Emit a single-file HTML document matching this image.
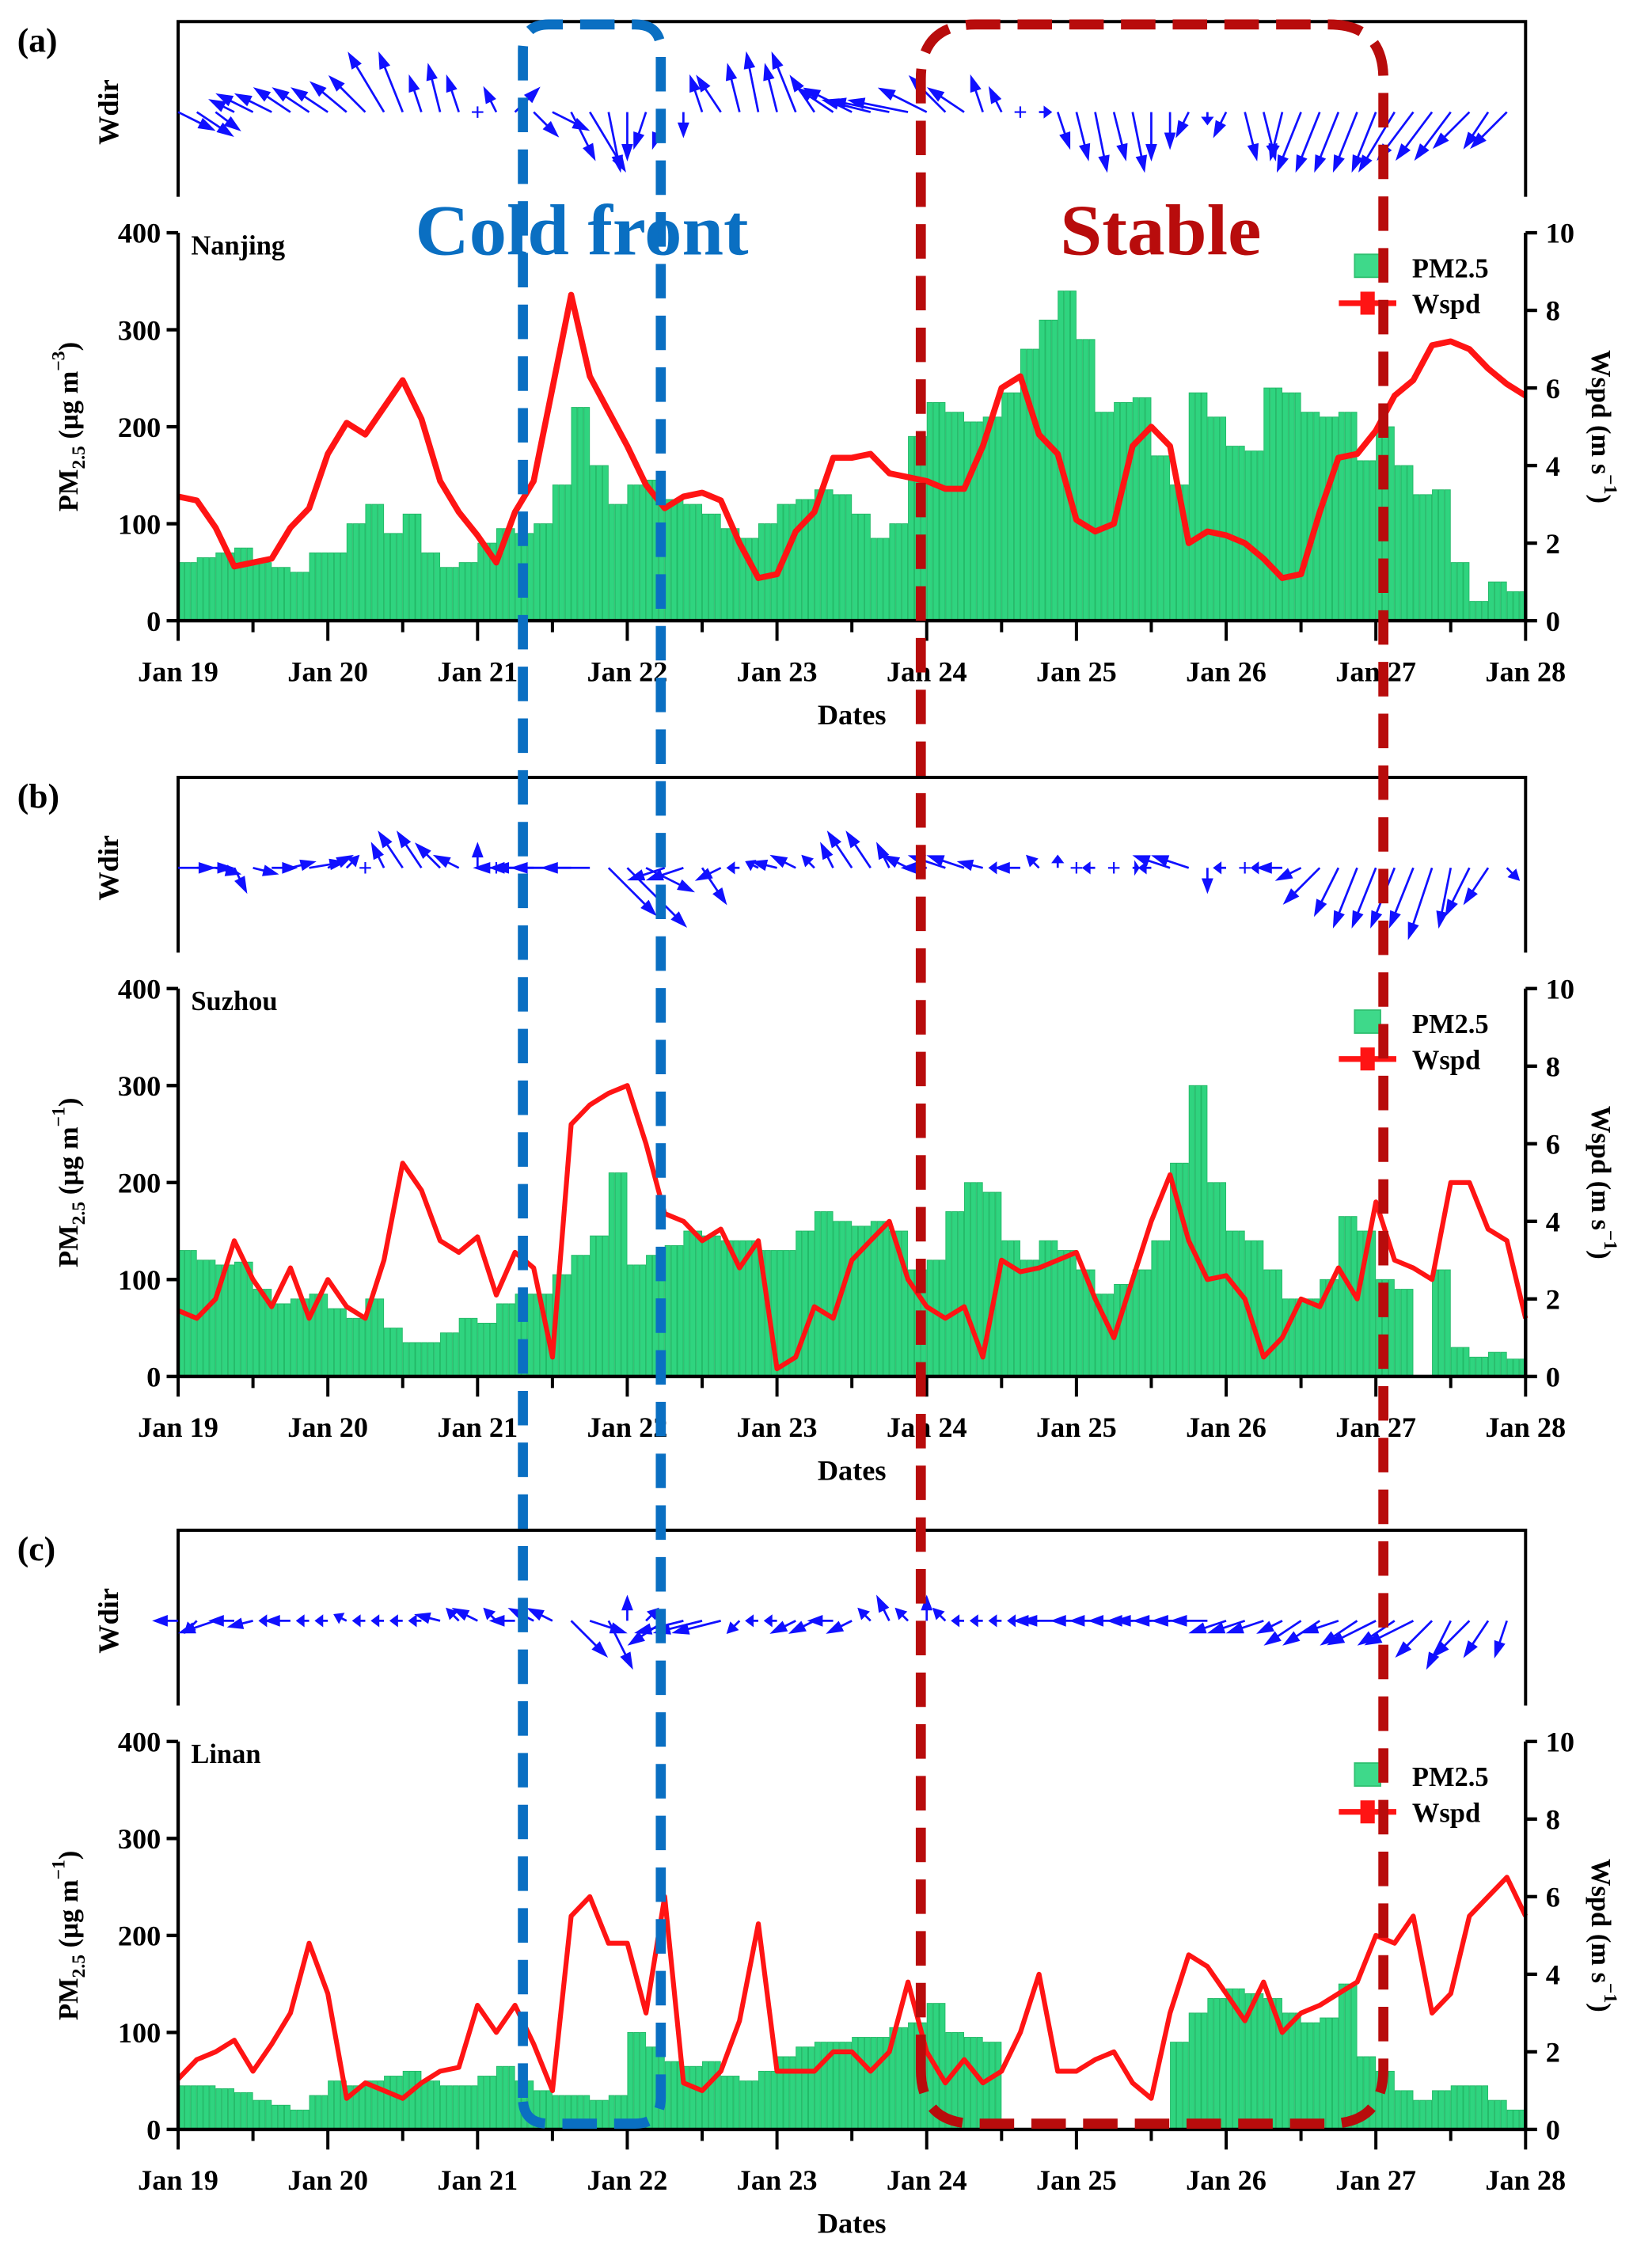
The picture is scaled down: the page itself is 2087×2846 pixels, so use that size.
<!DOCTYPE html>
<html><head><meta charset="utf-8"><style>
html,body{margin:0;padding:0;background:#fff;}
svg{display:block;}
text{font-family:"Liberation Serif",serif;font-weight:bold;}
</style></head><body>
<svg id="fig" xmlns="http://www.w3.org/2000/svg" width="2087" height="2846" viewBox="0 0 1150 1568" preserveAspectRatio="none"></svg>
<script>
const dayLabels=['Jan 19','Jan 20','Jan 21','Jan 22','Jan 23','Jan 24','Jan 25','Jan 26','Jan 27','Jan 28'];
const pmTicks=[0,100,200,300,400];
const wsTicks=[0,2,4,6,8,10];
const stations=['Nanjing','Suzhou','Linan'];
const panelLetters=['(a)','(b)','(c)'];

const pmA=[60,65,70,75,60,55,50,70, 70,100,120,90,110,70,55,60, 80,95,90,100,140,220,160,120, 140,145,125,120,110,95,85,100, 120,125,135,130,110,85,100,190, 225,215,205,210,235,280,310,340, 290,215,225,230,170,140,235,210, 180,175,240,235,215,210,215,165, 200,160,130,135,60,20,40,30];
const wsA=[3.2,3.1,2.4,1.4,1.5,1.6,2.4,2.9, 4.3,5.1,4.8,5.5,6.2,5.2,3.6,2.8, 2.2,1.5,2.8,3.6,6.0,8.4,6.3,5.4, 4.5,3.5,2.9,3.2,3.3,3.1,2.0,1.1, 1.2,2.3,2.8,4.2,4.2,4.3,3.8,3.7, 3.6,3.4,3.4,4.5,6.0,6.3,4.8,4.3, 2.6,2.3,2.5,4.5,5.0,4.5,2.0,2.3, 2.2,2.0,1.6,1.1,1.2,2.8,4.2,4.3, 4.9,5.8,6.2,7.1,7.2,7.0,6.5,6.1,5.8];
const uA=[3,3,2,-2,-3,-3,-3,-3, -3,-3,-3,-3,-2,-1,-1,-1, 0,-1,2,2,3,2,3,1, 0,-1,-1,0,-1,-2,-1,-1, -1,-2,-2,-3,-4,-4,-5,-5, -4,-3,-3,-1,-1,0,1,1, 1,1,1,1,0,0,-1,0, -1,1,1,-1,-2,-2,-2,-2, -2,-3,-3,-3,-3,-3,-2,-3];
const vA=[1.5,2,1.5,-1,-1.5,-1.5,-2,-2, -2,-2.5,-3,-5,-5,-3,-4,-3, 0,-2,-2,2,1.5,4,5,5, 4,3,3,2,-3,-3,-4,-5, -4,-5,-3,-2,-2,-1,-1,-1, -2,-3,-2,-3,-2,0,0,3, 4,5,4,5,4,3,2,1, 2,4,4,4,5,5,5,5, 5,5,4,4,4,3,3,3];

const pmB=[130,120,115,118,90,75,80,85, 70,60,80,50,35,35,45,60, 55,75,85,85,105,125,145,210, 115,125,135,150,145,140,140,130, 130,150,170,160,155,160,150,110, 120,170,200,190,140,120,140,130, 110,85,95,110,140,220,300,200, 150,140,110,80,80,100,165,150, 100,90,0,110,30,20,25,18];
const wsB=[1.7,1.5,2.0,3.5,2.5,1.8,2.8,1.5, 2.5,1.8,1.5,3.0,5.5,4.8,3.5,3.2, 3.6,2.1,3.2,2.8,0.5,6.5,7.0,7.3, 7.5,6.0,4.2,4.0,3.5,3.8,2.8,3.5, 0.2,0.5,1.8,1.5,3.0,3.5,4.0,2.5, 1.8,1.5,1.8,0.5,3.0,2.7,2.8,3.0, 3.2,2.0,1.0,2.5,4.0,5.2,3.5,2.5, 2.6,2.0,0.5,1.0,2.0,1.8,2.8,2.0, 4.5,3.0,2.8,2.5,5.0,5.0,3.8,3.5,1.5];
const uB=[3,3,2,1,2,2,2,3, 2,1,0,-1,-2,-2,-2,-2, 0,0,-2,-5,-5,-5,-4,4, 5,4,-3,-3,2,-2,-1,-1, -2,-2,-1,-1,-2,-2,-1,-2, -2,-3,-3,-2,-1,-2,-1,0, 0,-1,0,0.5,-1,-3,-3,0, -1,0,-1,-2,-2,-3,-2,-2, -2,-2,-2,-2,-1,-2,-2,1];
const vB=[0,0,0.5,2,0.5,0,-0.5,-0.5, -1,-1,0,-2,-3,-3,-2,-1, -2,0,0,0,0,0,0,4, 5,2,1,1,3,1,0,-0.5, -0.5,-1,-1,-2,-3,-3,-2,-1, 0,-1,-1,-0.5,0,0,-1,-1, 0,0,0,0,0,-1,-1,2, 0,0,0,0,1,3,4,5, 5,5,5,6,5,4,3,1];

const pmC=[45,45,42,38,30,25,20,35, 50,45,50,55,60,50,45,45, 55,65,50,40,35,35,30,35, 100,85,70,65,70,55,50,60, 75,85,90,90,95,95,105,110, 130,100,95,90,0,0,0,0, 0,0,0,0,0,90,120,135, 145,140,135,120,110,115,150,75, 60,40,30,40,45,45,30,20];
const wsC=[1.3,1.8,2.0,2.3,1.5,2.2,3.0,4.8, 3.5,0.8,1.2,1.0,0.8,1.2,1.5,1.6, 3.2,2.5,3.2,2.2,1.0,5.5,6.0,4.8, 4.8,3.0,6.0,1.2,1.0,1.5,2.8,5.3, 1.5,1.5,1.5,2.0,2.0,1.5,2.0,3.8, 2.0,1.2,1.8,1.2,1.5,2.5,4.0,1.5, 1.5,1.8,2.0,1.2,0.8,3.0,4.5,4.2, 3.5,2.8,3.8,2.5,3.0,3.2,3.5,3.8, 5.0,4.8,5.5,3.0,3.5,5.5,6.0,6.5,5.5];
const uC=[-2,-1,-3,-2,-2,-1,-2,-1, -1,-1,-1,-1,-1,-1,-2,-1, -2,-1,-2,-2,-2,3,3,2, 0,1,-3,-4,-4,-4,-1,-1, -1,-2,-2,-2,-2,-1,-1,-1, 0,-1,-1,-1,-1,-1,-2,-3, -2,-2,-2,-2,-3,-3,-3,-3, -3,-3,-3,-2,-3,-3,-3,-3, -4,-3,-4,-3,-2,-3,-2,-1];
const vC=[0,1,1,0,0.5,0,0,0, 0,-0.5,0,0,0,0,-0.5,-1, -1,-1,0,-1,-1,3,1,4, -2,-1,2,1,1,1,1,0, 0,1,1,0,1,-1,-2,-1, -2,-1,0,0,0,0,0,0, 0,0,0,0,0,0,0,0, 1,1,1,1,2,2,1,2, 2,2,2,3,4,3,3,3];

const NS='http://www.w3.org/2000/svg';
const svg=document.getElementById('fig');
function mk(tag,attrs,parent){const e=document.createElementNS(NS,tag);for(const k in attrs)e.setAttribute(k,attrs[k]);(parent||svg).appendChild(e);return e;}

const X0=124,X1=1062;
const N=72;
function xOf(i){return X0+i*(X1-X0)/N;}
function xDay(d){return X0+d*(X1-X0)/9;}

const panels=[
 {off:0,pm:pmA,ws:wsA,u:uA,v:vA,exp:'\u22123',lw:4.2},
 {off:526,pm:pmB,ws:wsB,u:uB,v:vB,exp:'\u22121',lw:3.4},
 {off:1050,pm:pmC,ws:wsC,u:uC,v:vC,exp:'\u22121',lw:3.4}
];

panels.forEach((p,pi)=>{
  const o=p.off;
  const g=mk('g',{});
  
  
  const top=162+o,bot=432+o;
  const yPm=v=>bot-(v/400)*(bot-top);
  const yWs=v=>bot-(v/10)*(bot-top);
  const pl=mk('text',{x:12,y:36+o,'font-size':24},g);pl.textContent=panelLetters[pi];
  
  
  const wbT=15+o,wbB=137+o;
  const wf=mk('path',{d:`M${X0},${wbB} L${X0},${wbT} L${X1},${wbT} L${X1},${wbB}`,fill:'none',stroke:'#000','stroke-width':2.2},g);
  
  
  const wl=mk('text',{x:0,y:0,'font-size':20,transform:`translate(82,${78+o}) rotate(-90)`,'text-anchor':'middle'},g);
  wl.textContent='Wdir';
  
  
  const baseY=pi===0?78:(pi===1?604:1128);
  for(let i=0;i<N;i++){
    const x=xOf(i),dx=p.u[i]*8,dy=p.v[i]*8;
    const L=Math.hypot(dx,dy);
    if(L<0.5){const pc=mk('path',{d:`M${x-4},${baseY} h8 M${x},${baseY-4} v8`,stroke:'#1010ff','stroke-width':1.2},g);
      
      
      continue;}
    const ux=dx/L,uy=dy/L,hx=x+dx,hy=baseY+dy;
    const hl=Math.min(9,L*0.5),hw=3;
    const a=mk('path',{d:`M${x},${baseY} L${hx},${hy} M${hx},${hy} L${hx-ux*hl-uy*hw},${hy-uy*hl+ux*hw} L${hx-ux*hl+uy*hw},${hy-uy*hl-ux*hw} Z`,stroke:'#1010ff','stroke-width':1.5,fill:'#1010ff'},g);
    
    
  }
  const bw=(X1-X0)/N, sw=bw/3;
  for(let i=0;i<N;i++){
    if(p.pm[i]<=0)continue;
    for(let s=0;s<3;s++){
      const b=mk('rect',{x:xOf(i)+s*sw+0.25,y:yPm(p.pm[i]),width:sw-0.5,height:bot-yPm(p.pm[i]),fill:'#2fd47f',stroke:'#22b866','stroke-width':0.5},g);
      
      
    }
  }
  let d='';
  p.ws.forEach((v,i)=>{d+=(i?'L':'M')+xOf(i).toFixed(1)+','+yWs(v).toFixed(1);});
  const ln=mk('path',{d:d,fill:'none',stroke:'#ff1414','stroke-width':p.lw,'stroke-linejoin':'round'},g);
  
  
  const ax=mk('path',{d:`M${X0},${top} L${X0},${bot} L${X1},${bot} L${X1},${top}`,fill:'none',stroke:'#000','stroke-width':2.4},g);
  
  
  pmTicks.forEach(t=>{
    const y=yPm(t);
    const tk=mk('line',{x1:X0-8,x2:X0,y1:y,y2:y,stroke:'#000','stroke-width':2.4},g);
    
    
    const tl=mk('text',{x:X0-12,y:y+7,'font-size':20,'text-anchor':'end'},g);tl.textContent=t;
    
    
  });
  wsTicks.forEach(t=>{
    const y=yWs(t);
    const tk=mk('line',{x1:X1,x2:X1+8,y1:y,y2:y,stroke:'#000','stroke-width':2.4},g);
    
    
    const tl=mk('text',{x:X1+14,y:y+7,'font-size':20},g);tl.textContent=t;
    
    
  });
  for(let k=0;k<=18;k++){
    const x=X0+k*(X1-X0)/18;
    const tk=mk('line',{x1:x,x2:x,y1:bot,y2:bot+(k%2?8:14),stroke:'#000','stroke-width':2.2},g);
    
    
  }
  dayLabels.forEach((lab,k)=>{
    const tl=mk('text',{x:xDay(k),y:bot+42,'font-size':20,'text-anchor':'middle'},g);tl.textContent=lab;
    
    
  });
  const xt=mk('text',{x:593,y:bot+72,'font-size':20,'text-anchor':'middle'},g);xt.textContent='Dates';
  
  
  const yt=mk('text',{x:0,y:0,'font-size':19,transform:`translate(54,${297+o}) rotate(-90)`,'text-anchor':'middle'},g);
  yt.innerHTML=`PM<tspan font-size="13" dy="5">2.5</tspan><tspan dy="-5"> (\u00b5g m</tspan><tspan font-size="13" dy="-9">${p.exp}</tspan><tspan dy="9">)</tspan>`;
  
  
  const yr=mk('text',{x:0,y:0,'font-size':19,transform:`translate(1108,${297+o}) rotate(90)`,'text-anchor':'middle'},g);
  yr.innerHTML=`Wspd (m s<tspan font-size="13" dy="-9">\u22121</tspan><tspan dy="9">)</tspan>`;
  
  
  const st=mk('text',{x:133,y:177+o,'font-size':19},g);st.textContent=stations[pi];
  
  
  const lg=mk('g',{},g);
  
  
  const ls=mk('rect',{x:943,y:177+o,width:18,height:16,fill:'#3ed98a',stroke:'#2fc070'},lg);
  
  
  const lt1=mk('text',{x:983,y:193+o,'font-size':19},lg);lt1.textContent='PM2.5';
  
  
  const ll=mk('line',{x1:932,x2:972,y1:211+o,y2:211+o,stroke:'#ff1414','stroke-width':4},lg);
  
  
  const lm=mk('rect',{x:947,y:203+o,width:10,height:16,fill:'#ff1414'},lg);
  
  
  const lt2=mk('text',{x:983,y:218+o,'font-size':19},lg);lt2.textContent='Wspd';
  
  
});

const cb=mk('path',{d:'M364,1460 L364,35 Q364,17 382,17 L442,17 Q460,17 460,35 L460,1460 Q460,1478 442,1478 L382,1478 Q364,1478 364,1460 Z',fill:'none',stroke:'#0a6fc2','stroke-width':7,'stroke-dasharray':'24 12'});


const sb=mk('path',{d:'M641,1440 L641,55 Q641,17 679,17 L925,17 Q963,17 963,55 L963,1440 Q963,1478 925,1478 L679,1478 Q641,1478 641,1440 Z',fill:'none',stroke:'#b80c0c','stroke-width':7,'stroke-dasharray':'24 12'});


const ct=mk('text',{x:289,y:177,'font-size':50,fill:'#0a6fc2',textLength:232,lengthAdjust:'spacingAndGlyphs'});ct.textContent='Cold front';


const stt=mk('text',{x:738,y:177,'font-size':50,fill:'#b80c0c',textLength:140,lengthAdjust:'spacingAndGlyphs'});stt.textContent='Stable';


</script>
</body></html>
